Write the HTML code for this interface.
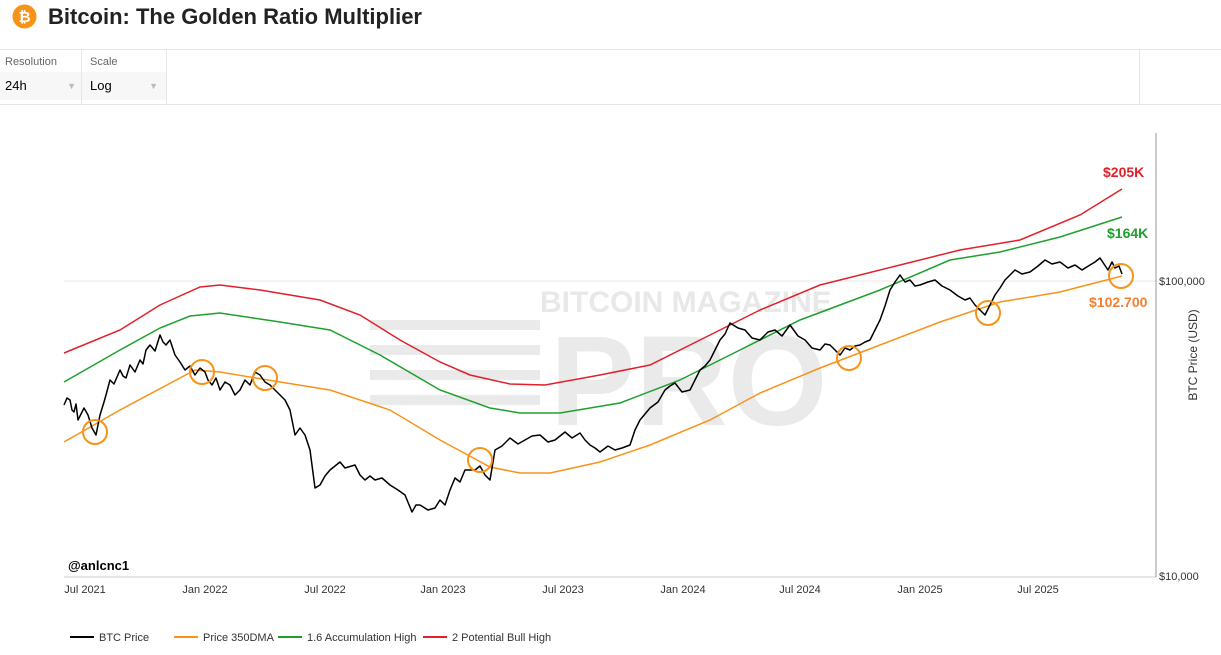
<!DOCTYPE html>
<html><head><meta charset="utf-8"><style>
body{margin:0;width:1221px;height:655px;background:#fff;font-family:"Liberation Sans",sans-serif;position:relative;overflow:hidden}
.t{position:absolute;left:48px;top:4px;font-size:22px;font-weight:bold;color:#222}
.ctl{position:absolute;top:49px;left:0;right:0;height:54px;border-top:1px solid #e6e6e6;border-bottom:1px solid #e6e6e6}
</style></head><body>
<svg style="position:absolute;left:12px;top:4px" width="25" height="25"><circle cx="12.5" cy="12.5" r="12" fill="#f7931a"/><text x="12.5" y="18" font-size="15" font-weight="bold" fill="#fff" text-anchor="middle" font-family="Liberation Sans">₿</text></svg>
<div class="t">Bitcoin: The Golden Ratio Multiplier</div>
<div class="ctl">
<div style="position:absolute;left:0;top:0;width:81px;height:54px;border-right:1px solid #e6e6e6"><div style="font-size:11px;color:#666;padding:6px 5px">Resolution</div><div style="background:#f7f7f7;height:28px;font-size:13px;padding:6px 5px;box-sizing:border-box;margin-top:-2px">24h<span style="float:right;color:#bbb;font-size:9px;margin-top:3px">▼</span></div></div>
<div style="position:absolute;left:82px;top:0;width:84px;height:54px;border-right:1px solid #e6e6e6"><div style="font-size:11px;color:#666;padding:6px 8px">Scale</div><div style="background:#f7f7f7;height:28px;font-size:13px;padding:6px 8px;box-sizing:border-box;margin-top:-2px">Log<span style="float:right;color:#bbb;font-size:9px;margin-top:3px">▼</span></div></div>
<div style="position:absolute;left:1139px;top:0;height:54px;border-left:1px solid #e6e6e6"></div>
</div>
<svg style="position:absolute;left:0;top:0" width="1221" height="655" font-family="Liberation Sans">
<line x1="64" y1="281" x2="1156" y2="281" stroke="#e8e8e8"/>
<line x1="64" y1="577" x2="1156" y2="577" stroke="#ccc"/>
<line x1="1156" y1="133" x2="1156" y2="577" stroke="#999"/>
<text x="540" y="312" font-size="30" font-weight="bold" fill="#e8e8e8">BITCOIN MAGAZINE</text>
<text x="550" y="425" font-size="128" font-weight="bold" fill="#eaeaea">PRO</text>
<g fill="#eaeaea"><rect x="370" y="320" width="170" height="10"/><rect x="370" y="345" width="170" height="10"/><rect x="370" y="370" width="170" height="10"/><rect x="370" y="395" width="170" height="10"/></g>
<polyline fill="none" stroke="#e0202a" stroke-width="1.5" points="64,353 120,330 160,305 200,287 220,285 260,290 320,300 360,315 400,340 440,362 470,375 510,384 545,385 600,375 650,365 700,340 760,310 820,285 900,265 960,250 1020,240 1080,215 1122,189"/>
<polyline fill="none" stroke="#1fa02d" stroke-width="1.5" points="64,382 120,350 160,328 190,316 220,313 280,322 330,330 380,355 440,390 490,408 520,413 560,413 620,403 680,380 740,350 800,320 880,290 950,260 1000,252 1060,237 1122,217"/>
<polyline fill="none" stroke="#f7931a" stroke-width="1.5" points="64,442 120,410 195,370 220,372 280,382 330,390 390,410 440,440 490,467 520,473 550,473 600,462 650,445 710,420 760,393 820,368 880,345 940,322 1000,302 1060,292 1122,276"/>
<polyline fill="none" stroke="#000" stroke-width="1.5" stroke-linejoin="round" points="64,405 67,398 70,400 72,410 74,412 76,404 78,420 81,414 84,408 88,415 92,428 96,435 100,415 104,402 106,395 110,380 114,384 120,370 123,376 126,378 130,365 135,372 140,360 143,364 146,350 150,345 155,351 160,335 163,342 166,345 170,340 175,355 180,362 185,370 190,366 195,375 200,368 205,372 208,380 212,385 216,378 220,390 225,382 230,385 235,395 240,390 245,380 250,385 255,372 260,375 265,382 270,385 275,390 280,395 285,400 290,410 295,435 300,428 305,435 310,450 315,488 320,485 325,476 330,470 335,466 340,462 345,468 355,465 360,475 365,480 370,476 375,480 382,478 390,485 398,490 405,495 412,512 416,505 420,505 428,510 435,508 440,500 445,505 450,490 455,478 460,482 465,470 475,470 480,466 485,475 490,480 495,450 502,446 510,438 518,444 525,440 532,436 540,435 548,442 555,440 560,436 565,432 572,438 580,433 585,440 590,445 595,448 600,452 608,446 615,450 622,448 630,445 635,430 640,420 645,414 650,408 658,402 665,390 670,386 675,383 682,392 690,390 695,380 700,370 705,366 710,360 715,350 720,340 725,334 730,323 738,328 745,330 752,338 760,340 768,332 775,330 782,336 790,325 798,336 805,340 812,348 820,350 825,344 830,345 835,350 840,355 845,348 850,350 855,346 860,345 865,342 870,340 875,330 880,320 885,306 890,290 895,282 900,275 905,282 910,280 915,286 920,285 928,282 935,280 942,286 950,290 958,296 965,300 970,298 975,305 980,310 985,315 990,305 995,295 1000,288 1005,280 1010,275 1015,270 1022,274 1030,272 1038,266 1045,260 1052,264 1060,262 1068,268 1075,265 1082,270 1090,265 1095,262 1100,258 1104,264 1108,270 1112,262 1115,268 1119,266 1122,274"/>
<g fill="none" stroke="#f7931a" stroke-width="2"><circle cx="95" cy="432" r="12"/><circle cx="202" cy="372" r="12"/><circle cx="265" cy="378" r="12"/><circle cx="480" cy="460" r="12"/><circle cx="849" cy="358" r="12"/><circle cx="988" cy="313" r="12"/><circle cx="1121" cy="276" r="12"/></g>
<text x="1103" y="177" font-size="14" font-weight="bold" fill="#e0202a">$205K</text>
<text x="1107" y="238" font-size="14" font-weight="bold" fill="#1fa02d">$164K</text>
<text x="1089" y="307" font-size="14" font-weight="bold" fill="#f08030">$102.700</text>
<text x="68" y="570" font-size="13" font-weight="bold" fill="#000">@anlcnc1</text>
<g font-size="11" fill="#333"><text x="1159" y="285">$100,000</text><text x="1159" y="580">$10,000</text></g>
<text transform="translate(1197,355) rotate(-90)" font-size="12" fill="#333" text-anchor="middle">BTC Price (USD)</text>
<g font-size="11" fill="#333" text-anchor="middle"><text x="85" y="593">Jul 2021</text><text x="205" y="593">Jan 2022</text><text x="325" y="593">Jul 2022</text><text x="443" y="593">Jan 2023</text><text x="563" y="593">Jul 2023</text><text x="683" y="593">Jan 2024</text><text x="800" y="593">Jul 2024</text><text x="920" y="593">Jan 2025</text><text x="1038" y="593">Jul 2025</text></g>
<g font-size="11" fill="#333">
<line x1="70" y1="637" x2="94" y2="637" stroke="#000" stroke-width="2"/><text x="99" y="641">BTC Price</text>
<line x1="174" y1="637" x2="198" y2="637" stroke="#f7931a" stroke-width="2"/><text x="203" y="641">Price 350DMA</text>
<line x1="278" y1="637" x2="302" y2="637" stroke="#1fa02d" stroke-width="2"/><text x="307" y="641">1.6 Accumulation High</text>
<line x1="423" y1="637" x2="447" y2="637" stroke="#e0202a" stroke-width="2"/><text x="452" y="641">2 Potential Bull High</text>
</g>
</svg>
</body></html>
